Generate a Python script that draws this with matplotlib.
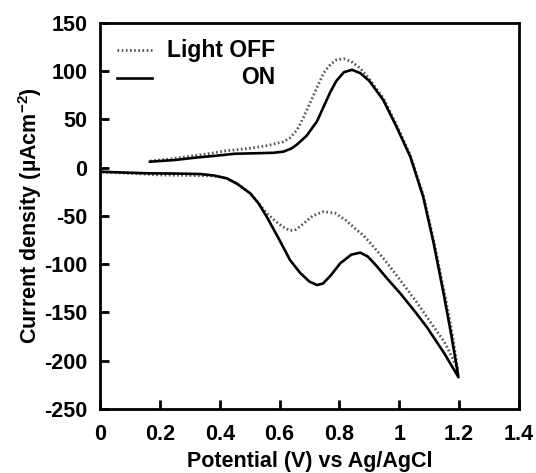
import matplotlib
matplotlib.use("Agg")
import matplotlib.pyplot as plt

# ----------------------------------------------
#   cyclic voltammetry, light OFF / ON
# ----------------------------------------------

# light ON, forward scan (V, uA/cm2)
on_fwd_v = [0.167, 0.25, 0.32, 0.39, 0.45, 0.52, 0.58, 0.613, 0.64, 0.658, 0.69, 0.725,
            0.75, 0.769, 0.79, 0.815, 0.842, 0.87, 0.9, 0.947, 0.99, 1.037, 1.08, 1.115,
            1.15, 1.175, 1.198]
on_fwd_i = [6.3, 8, 10.5, 12.5, 14.5, 15, 15.5, 16.7, 20, 24, 33, 48,
            65, 78, 90, 99, 101.5, 98, 90, 70, 43, 11.5, -30, -78,
            -133, -175, -217]
# light ON, reverse scan
on_rev_v = [1.198, 1.15, 1.092, 1.05, 1.003, 0.96, 0.925, 0.895, 0.87, 0.84, 0.803, 0.77,
            0.745, 0.725, 0.70, 0.669, 0.635, 0.6, 0.557, 0.53, 0.502, 0.46, 0.424, 0.38,
            0.334, 0.25, 0.167, 0.08, 0.0]
on_rev_i = [-217, -192, -165, -148, -130, -115, -102, -92, -88, -90, -99, -112,
            -120, -121.5, -118, -109, -95.6, -75, -50.7, -37, -26.5, -17, -11, -8,
            -6.5, -6, -5.8, -5, -4.1]

# light OFF, forward scan
off_fwd_v = [0.167, 0.22, 0.29, 0.35, 0.42, 0.502, 0.56, 0.613, 0.635, 0.658, 0.68, 0.702,
             0.725, 0.747, 0.77, 0.79, 0.814, 0.84, 0.87, 0.9, 0.947, 0.99, 1.037, 1.08,
             1.115, 1.15, 1.175, 1.195]
off_fwd_i = [7, 8.5, 11.5, 14, 17.5, 20.2, 23, 27, 31, 39, 52, 67,
             83, 98, 107, 111.7, 113, 110, 103, 92, 72, 45, 13, -28,
             -75, -128, -168, -208]
# light OFF, reverse scan
off_rev_v = [1.195, 1.15, 1.115, 1.06, 1.003, 0.95, 0.914, 0.88, 0.858, 0.82, 0.785, 0.747,
             0.71, 0.68, 0.655, 0.635, 0.61, 0.585, 0.557, 0.53, 0.502, 0.46, 0.424, 0.38,
             0.3, 0.2, 0.12, 0.0]
off_rev_i = [-208, -180, -164.7, -140, -116.3, -95, -81.8, -70, -64.5, -54, -47, -45.5,
             -50, -58, -64, -65.2, -61, -55, -47, -37, -26.5, -17, -11, -8.5,
             -8, -7.5, -6, -4.5]

x_ticks = [0, 0.2, 0.4, 0.6, 0.8, 1, 1.2, 1.4]
x_labels = ["0", "0.2", "0.4", "0.6", "0.8", "1", "1.2", "1.4"]
y_ticks = [-250, -200, -150, -100, -50, 0, 50, 100, 150]

plt.rcParams["font.family"] = "Liberation Sans"
plt.rcParams["font.weight"] = "bold"
plt.rcParams["axes.unicode_minus"] = False
plt.rcParams["mathtext.fontset"] = "custom"
plt.rcParams["mathtext.rm"] = "Liberation Sans:bold"
plt.rcParams["mathtext.bf"] = "Liberation Sans:bold"
plt.rcParams["mathtext.default"] = "bf"

fig = plt.figure(figsize=(5.36, 4.73), dpi=100)
ax = fig.add_axes([0.1866, 0.1353, 0.7815, 0.8161])

dot_style = dict(color="#555555", linestyle=(0, (0.6, 0.9)), linewidth=2.0)
solid_style = dict(color="black", linestyle="-", linewidth=1.9)

ax.plot(off_fwd_v + off_rev_v, off_fwd_i + off_rev_i, **dot_style)
ax.plot(on_fwd_v + on_rev_v, on_fwd_i + on_rev_i, **solid_style)

ax.set_xlim(0, 1.4)
ax.set_ylim(-250, 150)
ax.set_xticks(x_ticks)
ax.set_xticklabels(x_labels)
ax.set_yticks(y_ticks)
ax.tick_params(direction="in", length=6.5, width=2, labelsize=15.5)
ax.tick_params(axis="x", pad=11)
ax.tick_params(axis="y", pad=9)
for s in ax.spines.values():
    s.set_linewidth(2)

ax.set_xlabel("Potential (V) vs Ag/AgCl", fontsize=15.5, fontweight="bold", labelpad=4)
ax.set_ylabel(r"Current density (µAcm$^{-2}$)", fontsize=15.5, fontweight="bold", labelpad=0)

# legend, labels right aligned
ax.plot([0.04, 0.124], [0.93, 0.93], transform=ax.transAxes, **dot_style)
ax.plot([0.04, 0.124], [0.858, 0.858], transform=ax.transAxes, **solid_style)
ax.text(0.418, 0.93, "Light OFF", transform=ax.transAxes, ha="right", va="center",
        fontsize=16.5, fontweight="bold")
ax.text(0.418, 0.858, "ON", transform=ax.transAxes, ha="right", va="center",
        fontsize=16.5, fontweight="bold")

fig.savefig("out.png", dpi=100)
